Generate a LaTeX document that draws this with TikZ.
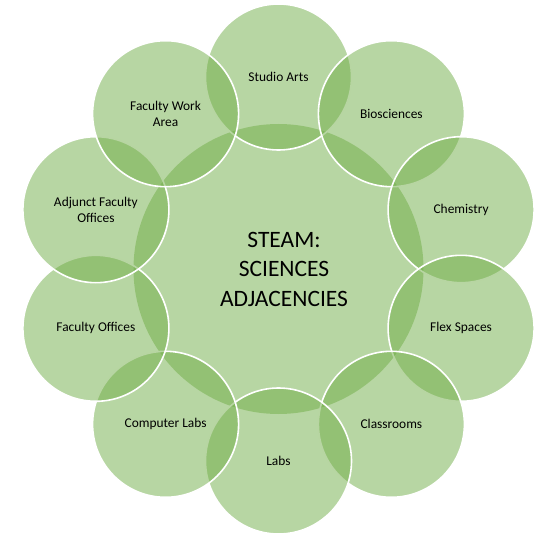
\documentclass[tikz,border=0pt]{standalone}
\usepackage{fontspec}
\setmainfont{Carlito}
\definecolor{vgreen}{HTML}{70AD47}
\begin{document}
\begin{tikzpicture}[x=1pt,y=-1pt,
  ring/.style={circle, minimum size=146pt, inner sep=0pt, fill=vgreen, fill opacity=0.5, text opacity=1, draw=white, draw opacity=1, line width=1.6pt, font=\fontsize{13.4}{16.5}\selectfont, align=center, text=black},
  hub/.style={circle, minimum size=290pt, inner sep=0pt, fill=vgreen, fill opacity=0.5},
  hubtext/.style={font=\fontsize{23.5}{29.5}\selectfont, align=center, text=black, inner sep=0pt}]
\useasboundingbox (0,0) rectangle (539,535);
\node[hub] (hub) at (278.5,269) {};
\node[hubtext] (hublabel) at (284,269) {STEAM:\\SCIENCES\\ADJACENCIES};
\node[ring] (studio) at (278.5,77) {Studio Arts};
\node[ring] (bio) at (391.4,113.7) {Biosciences};
\node[ring] (chem) at (461.1,209.7) {Chemistry};
\node[ring] (flex) at (461.1,328.3) {Flex Spaces};
\node[ring] (class) at (391.4,424.3) {Classrooms};
\node[ring] (labs) at (278.5,461) {Labs};
\node[ring] (comp) at (165.6,424.3) {Computer Labs};
\node[ring] (facoff) at (95.9,328.3) {Faculty Offices};
\node[ring] (adj) at (95.9,209.7) {Adjunct Faculty\\Offices};
\node[ring] (work) at (165.6,113.7) {Faculty Work\\Area};
\end{tikzpicture}
\end{document}
